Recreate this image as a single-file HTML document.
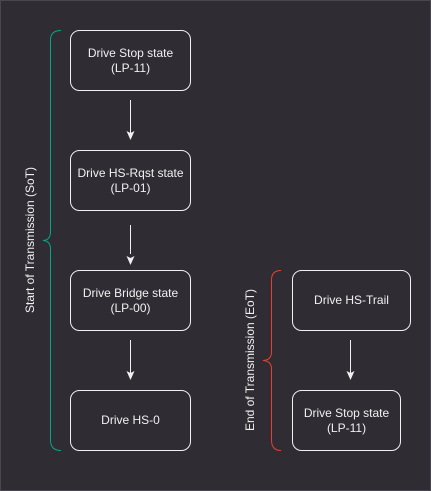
<!DOCTYPE html>
<html><head><style>
html,body{margin:0;padding:0;background:#302c34;}
svg{display:block}
text{font-family:"Liberation Sans",sans-serif;font-size:12px;fill:#f0f0f0;}
</style></head><body>
<svg width="431" height="491" viewBox="0 0 431 491" xmlns="http://www.w3.org/2000/svg">
<rect x="0" y="0" width="431" height="491" fill="#302c34"/>
<rect x="0.5" y="0.5" width="430" height="490" fill="none" stroke="#4a4650"/>
<g fill="none" stroke="#f0f0f0" stroke-width="1">
<rect x="70.5" y="30.5" width="120" height="60" rx="9"/>
<rect x="70.5" y="150.5" width="120" height="60" rx="9"/>
<rect x="70.5" y="270.5" width="120" height="60" rx="9"/>
<rect x="70.5" y="390.5" width="120" height="60" rx="9"/>
<rect x="292.5" y="270.5" width="118" height="60" rx="9"/>
<rect x="292.5" y="390.5" width="108" height="60" rx="9"/>
<line x1="130.5" y1="100" x2="130.5" y2="134"/>
<line x1="130.5" y1="225" x2="130.5" y2="254"/>
<line x1="130.5" y1="340" x2="130.5" y2="374"/>
<line x1="350.5" y1="340" x2="350.5" y2="374"/>
</g>
<g fill="#f0f0f0">
<path d="M126.5 131 L130.5 140 L134.5 131 L130.5 133 Z"/>
<path d="M126.5 256 L130.5 265 L134.5 256 L130.5 258 Z"/>
<path d="M126.5 371 L130.5 380 L134.5 371 L130.5 373 Z"/>
<path d="M346.5 371 L350.5 380 L354.5 371 L350.5 373 Z"/>
</g>
<path d="M61 30.5 Q50.5 30.5 50.5 40 L50.5 232 Q50.5 240 43 240.5 Q50.5 241 50.5 249 L50.5 440 Q50.5 450.5 61 450.5" fill="none" stroke="#00a884" stroke-width="1"/>
<path d="M281 270.5 Q271.5 270.5 271.5 280 L271.5 352 Q271.5 360 263 360.5 Q271.5 361 271.5 369 L271.5 440 Q271.5 450.5 281 450.5" fill="none" stroke="#e8402e" stroke-width="1"/>
<g text-anchor="middle">
<text x="130.5" y="57">Drive Stop state</text>
<text x="130.5" y="72">(LP-11)</text>
<text x="130.5" y="177">Drive HS-Rqst state</text>
<text x="130.5" y="192">(LP-01)</text>
<text x="130.5" y="297">Drive Bridge state</text>
<text x="130.5" y="312">(LP-00)</text>
<text x="130.5" y="424">Drive HS-0</text>
<text x="351.5" y="304">Drive HS-Trail</text>
<text x="346.5" y="417">Drive Stop state</text>
<text x="346.5" y="432">(LP-11)</text>
<text transform="translate(34,240) rotate(-90)">Start of Transmission (SoT)</text>
<text transform="translate(254,360) rotate(-90)">End of Transmission (EoT)</text>
</g>
</svg>
</body></html>
